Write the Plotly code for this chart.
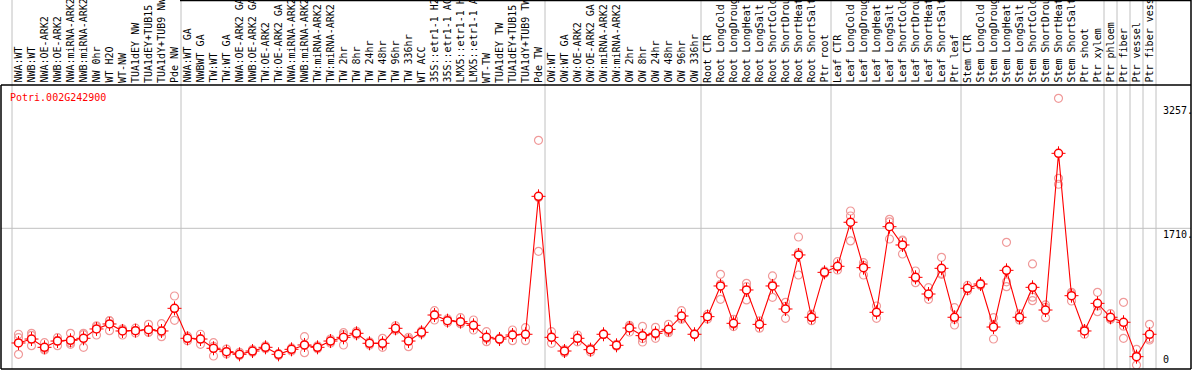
import plotly.graph_objects as go

# ---------------- data ----------------
samples = [
    "NWA:WT", "NWB:WT", "NWA:OE-ARK2", "NWB:OE-ARK2", "NWA:miRNA-ARK2", "NWB:miRNA-ARK2",
    "NW 0hr", "WT H2O", "WT-NW", "TUA1dEY NW", "TUA1dEY+TUB15 NW", "TUA1dY+TUB9 NW", "Pde NW",
    "NWA:WT GA", "NWBWT GA", "TW:WT", "TW:WT GA", "NWA:OE-ARK2 GA", "NWB:OE-ARK2 GA",
    "TW:OE-ARK2", "TW:OE-ARK2 GA", "NWA:miRNA-ARK2 GA", "NWB:miRNA-ARK2 GA", "TW:miRNA-ARK2",
    "TW:miRNA-ARK2 GA", "TW 2hr", "TW 8hr", "TW 24hr", "TW 48hr", "TW 96hr", "TW 336hr",
    "WT ACC", "35S::etr1-1 H2O", "35S::etr1-1 ACC", "LMX5::etr1-1 H2O", "LMX5::etr1-1 ACC",
    "WT-TW", "TUA1dEY TW", "TUA1dEY+TUB15 TW", "TUA1dY+TUB9 TW", "Pde TW",
    "OW:WT", "OW:WT GA", "OW:OE-ARK2", "OW:OE-ARK2 GA", "OW:miRNA-ARK2", "OW:miRNA-ARK2 GA",
    "OW 2hr", "OW 8hr", "OW 24hr", "OW 48hr", "OW 96hr", "OW 336hr",
    "Root CTR", "Root LongCold", "Root LongDrought", "Root LongHeat", "Root LongSalt",
    "Root ShortCold", "Root ShortDrought", "Root ShortHeat", "Root ShortSalt", "Ptr root",
    "Leaf CTR", "Leaf LongCold", "Leaf LongDrought", "Leaf LongHeat", "Leaf LongSalt",
    "Leaf ShortCold", "Leaf ShortDrought", "Leaf ShortHeat", "Leaf ShortSalt", "Ptr leaf",
    "Stem CTR", "Stem LongCold", "Stem LongDrought", "Stem LongHeat", "Stem LongSalt",
    "Stem ShortCold", "Stem ShortDrought", "Stem ShortHeat", "Stem ShortSalt", "Ptr shoot",
    "Ptr xylem", "Ptr phloem", "Ptr fiber", "Ptr vessel", "Ptr fiber vessel",
]

mean_vals = [
    286, 335, 232, 310, 319, 344, 460, 522, 435, 439, 451, 435, 716,
    344, 335, 220, 178, 145, 186, 232, 145, 207, 261, 232, 310, 356, 406, 282, 282,
    468, 310, 418, 633, 563, 551, 505, 356, 335, 385, 394, 2107,
    356, 186, 344, 203, 394, 257, 472, 377, 406, 455, 621, 394,
    613, 994, 530, 944, 517, 994, 708, 1379, 605, 1163,
    1238, 1785, 1221, 667, 1730, 1503, 1101, 894, 1213, 605,
    965, 1018, 484, 1188, 605, 977, 695, 2641, 873, 435,
    778, 605, 543, 116, 394,
]

rep1 = [
    394, 406, 290, 352, 406, 406, 488, 563, 460, 470, 517, 526, 869,
    370, 394, 290, 210, 170, 205, 250, 155, 225, 364, 250, 335, 414, 430, 300, 344,
    500, 356, 435, 687, 585, 600, 571, 426, 345, 447, 476, 2803,
    426, 205, 385, 215, 395, 270, 505, 493, 480, 517, 687, 398,
    640, 1139, 580, 1027, 560, 1118, 791, 1602, 645, 1180,
    1295, 1925, 1283, 745, 1822, 1553, 1180, 973, 1350, 724,
    1000, 1030, 600, 1536, 650, 1267, 758, 3324, 915, 394,
    915, 650, 791, 207, 517,
]

rep2 = [
    352, 380, 199, 252, 269, 232, 385, 439, 385, 410, 418, 364, 567,
    315, 269, 124, 150, 130, 170, 215, 130, 185, 165, 215, 285, 261, 385, 260, 232,
    445, 240, 400, 571, 540, 530, 447, 302, 325, 315, 315, 1424,
    282, 165, 300, 175, 390, 245, 422, 298, 344, 414, 580, 390,
    585, 828, 490, 820, 470, 853, 592, 1130, 563, 1150,
    1192, 1863, 1130, 592, 1577, 1391, 1035, 828, 1139, 509,
    935, 1000, 335, 985, 570, 811, 600, 2331, 807, 455,
    675, 580, 344, 12, 323,
]

rep3 = [
    145, 252, 210, 320, 290, 390, 500, 560, 455, 440, 420, 420, 710,
    345, 340, 245, 175, 140, 185, 230, 150, 210, 255, 230, 310, 390, 405, 285, 270,
    460, 335, 420, 640, 565, 525, 500, 340, 335, 395, 390, 2094,
    360, 190, 345, 220, 397, 255, 490, 340, 395, 435, 595, 395,
    615, 1015, 520, 985, 520, 1010, 740, 1405, 605, 1160,
    1228, 1553, 1250, 665, 1790, 1565, 1090, 880, 1150, 580,
    960, 1025, 517, 1045, 595, 855, 727, 2257, 897, 456,
    745, 585, 495, 130, 342,
]

group_bounds = [0, 13, 41, 53, 63, 73, 84, 85, 86, 87, 88]
gene_name = "Potri.002G242900"
y_tick_vals = [3257, 1710, 0]
y_tick_text = ["3257.", "1710.", "0"]

# ---------------- geometry ----------------
W, H = 1194, 370
ML, MR, MT, MB = 1, 3, 85, 1
PW, PH = W - ML - MR, H - MT - MB
STEP = 13.0
FIRST = 18.5
xmin = (ML - FIRST) / STEP
xmax = xmin + PW / STEP
y0px = 366.0
ypx1710 = 228.3
k = (y0px - ypx1710) / 1710.0
ymax = (y0px - MT) / k
ymin = (y0px - (H - MB)) / k

def px_to_paper_x(p):
    return (p - ML) / PW

def px_to_paper_y(p):
    return (H - MB - p) / PH

def idx_to_paper_x(v):
    return (v - xmin) / (xmax - xmin)

x_idx = list(range(len(samples)))
MONO = "DejaVu Sans Mono"
RED = "#ff0000"
PINK = "#f09a9a"
GREY = "#c0c0c0"

fig = go.Figure()

# replicate points
for rep in (rep1, rep2, rep3):
    fig.add_trace(go.Scatter(
        x=x_idx, y=rep, mode="markers",
        marker=dict(symbol="circle-open", size=8, color=PINK, line=dict(width=1.2, color=PINK)),
        hoverinfo="skip", showlegend=False,
    ))

# mean line
fig.add_trace(go.Scatter(
    x=x_idx, y=mean_vals, mode="lines",
    line=dict(color=RED, width=1.1), showlegend=False, hoverinfo="skip",
))
# small crosshair ticks of mean markers
fig.add_trace(go.Scatter(
    x=x_idx, y=mean_vals, mode="markers",
    marker=dict(symbol="cross-thin-open", size=10, color=RED, line=dict(width=1, color=RED)),
    showlegend=False, hoverinfo="skip",
))
# mean circles
fig.add_trace(go.Scatter(
    x=x_idx, y=mean_vals, mode="markers",
    marker=dict(symbol="circle", size=8, color="white", line=dict(width=1.5, color=RED)),
    showlegend=False, hovertemplate="%{text}: %{y}<extra></extra>", text=samples,
))

shapes = []
top_paper = px_to_paper_y(0)
# vertical group separators (full height, through the label band)
for b in group_bounds:
    xp = idx_to_paper_x(b - 0.5)
    shapes.append(dict(type="line", xref="paper", yref="paper", x0=xp, x1=xp,
                       y0=0, y1=top_paper, line=dict(color=GREY, width=1), layer="below"))
# horizontal grid at 1710
shapes.append(dict(type="line", xref="paper", yref="y", x0=0, x1=1, y0=1710, y1=1710,
                   line=dict(color=GREY, width=1), layer="below"))
# black frame
BL = dict(color="black", width=1.5)
shapes += [
    dict(type="line", xref="paper", yref="paper", x0=0, x1=1, y0=0, y1=0, line=BL),
    dict(type="line", xref="paper", yref="paper", x0=0, x1=1, y0=1, y1=1, line=BL),
    dict(type="line", xref="paper", yref="paper", x0=0, x1=0, y0=0, y1=1, line=BL),
    dict(type="line", xref="paper", yref="paper", x0=1, x1=1, y0=0, y1=top_paper, line=BL),
    dict(type="line", xref="paper", yref="paper", x0=px_to_paper_x(180), x1=1,
         y0=top_paper - 0.002, y1=top_paper - 0.002, line=BL),
]

annotations = []
for i, s in enumerate(samples):
    annotations.append(dict(
        x=i, xref="x", y=1 + 1.0 / PH, yref="paper", text=s, showarrow=False,
        textangle=-90, xanchor="center", yanchor="bottom", borderpad=0,
        font=dict(family=MONO, size=10, color="black"),
    ))
annotations.append(dict(
    x=px_to_paper_x(8), xref="paper", y=px_to_paper_y(97), yref="paper",
    text=gene_name, showarrow=False, xanchor="left", yanchor="middle",
    font=dict(family=MONO, size=10, color=RED),
))
for v, t in zip(y_tick_vals, y_tick_text):
    annotations.append(dict(
        x=px_to_paper_x(1162), xref="paper", y=v, yref="y", text=t, showarrow=False,
        xanchor="left", yanchor="bottom" if v == 0 else "top", borderpad=0,
        font=dict(family=MONO, size=10, color="black"),
    ))

fig.update_layout(
    width=W, height=H,
    margin=dict(l=ML, r=MR, t=MT, b=MB, pad=0),
    paper_bgcolor="white", plot_bgcolor="white",
    showlegend=False,
    xaxis=dict(range=[xmin, xmax], visible=False, fixedrange=True),
    yaxis=dict(range=[ymin, ymax], visible=False, fixedrange=True),
    shapes=shapes, annotations=annotations,
)

fig.write_html(
    "out.html",
    config={"displayModeBar": False, "staticPlot": False},
    post_script="document.body.style.margin='0';document.body.style.overflow='hidden';",
)
